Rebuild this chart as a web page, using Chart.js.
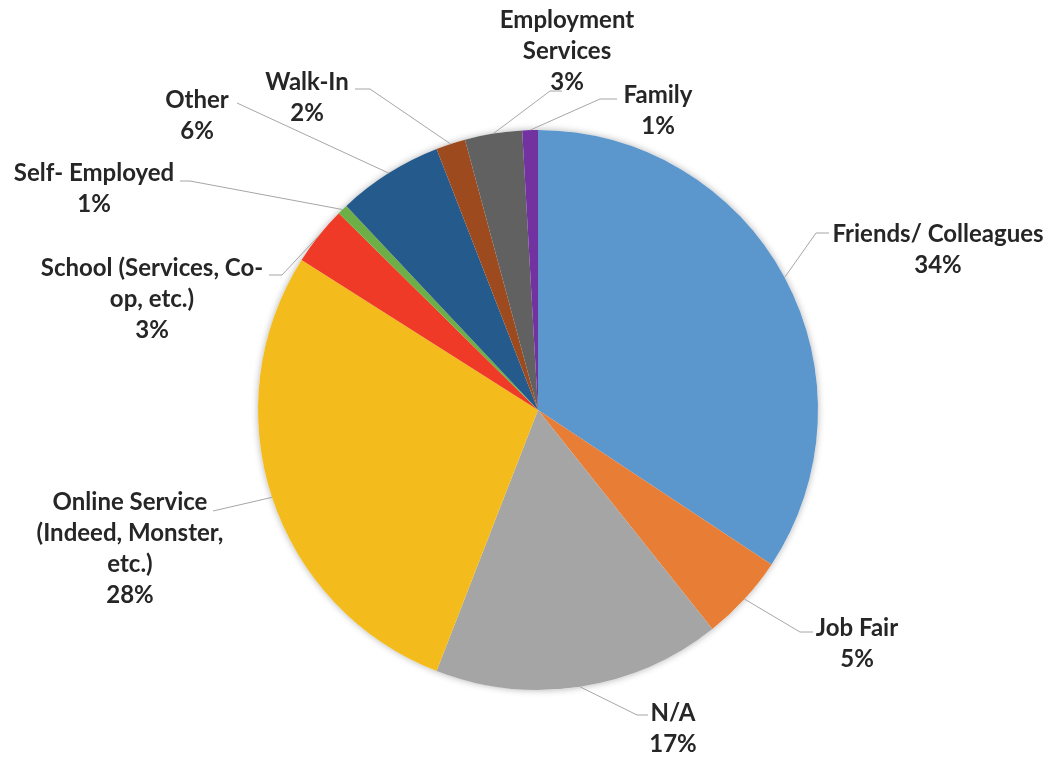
<!DOCTYPE html>
<html>
<head>
<meta charset="utf-8">
<title>Referral Sources</title>
<script src="https://cdn.jsdelivr.net/npm/chart.js@4.4.1/dist/chart.umd.min.js"></script>
<style>
    html, body { margin: 0; padding: 0; background: #ffffff; }
    #wrap { width: 1051px; height: 759px; }
</style>
</head>
<body>
<div id="wrap"><canvas id="sourceChart" width="1051" height="759"></canvas></div>
<script>
// slices run clockwise from 12 o'clock
const categories = ['Friends/ Colleagues', 'Job Fair', 'N/A', 'Online Service', 'School', 'Self- Employed', 'Other', 'Walk-In', 'Employment Services', 'Family'];
const nameLines = [
    ['Friends/ Colleagues'],
    ['Job Fair'],
    ['N/A'],
    ['Online Service', '(Indeed, Monster,', 'etc.)'],
    ['School (Services, Co-', 'op, etc.)'],
    ['Self- Employed'],
    ['Other'],
    ['Walk-In'],
    ['Employment', 'Services'],
    ['Family']
];
const shares = [34.3, 5.0, 16.6, 28.1, 3.4, 0.6, 6.1, 1.7, 3.3, 0.9];
const sliceColors = ['#5B96CC', '#E87D35', '#A5A5A5', '#F3BB1B', '#EE3A27', '#6DAE46', '#245A8C', '#9C4A1E', '#616161', '#7232A0'];

// label placement, offsets from the pie centre in px:
// text = centre of first text line, elbow/end = leader line bend and tip
const labelSpots = [
    { text: [400, -176], elbow: [278, -177], end: [291, -177] },
    { text: [319, 218],  elbow: [262, 222],  end: [275, 222] },
    { text: [135, 303],  elbow: [99, 305],   end: [110, 305] },
    { text: [-408, 92],  elbow: [-325, 101], end: [-325, 101] },
    { text: [-386, -142], elbow: [-256, -135], end: [-269, -135] },
    { text: [-444, -237], elbow: [-348, -229], end: [-358, -229] },
    { text: [-341, -310], elbow: [-301, -307], end: [-301, -307] },
    { text: [-231, -328], elbow: [-168, -321], end: [-183, -321] },
    { text: [29, -390],  elbow: [12, -319],  end: [24, -319] },
    { text: [120, -315], elbow: [62, -311],  end: [79, -311] }
];
const lineGap = 31;

// soft drop shadow behind the whole pie
const pieShadow = {
    id: 'pieShadow',
    beforeDatasetsDraw(chart) {
        const arc = chart.getDatasetMeta(0).data[0];
        const { x, y, outerRadius } = arc.getProps(['x', 'y', 'outerRadius'], true);
        const ctx = chart.ctx;
        ctx.save();
        ctx.shadowColor = 'rgba(0, 0, 0, 0.3)';
        ctx.shadowBlur = 7;
        ctx.fillStyle = '#ffffff';
        ctx.beginPath();
        ctx.arc(x, y, outerRadius, 0, Math.PI * 2);
        ctx.fill();
        ctx.restore();
    }
};

// outside labels with leader lines
const outsideLabels = {
    id: 'outsideLabels',
    afterDatasetsDraw(chart) {
        const ctx = chart.ctx;
        const data = chart.data.datasets[0].data;
        const total = data.reduce((sum, v) => sum + v, 0);
        chart.getDatasetMeta(0).data.forEach((arc, i) => {
            const p = arc.getProps(['x', 'y', 'startAngle', 'endAngle', 'outerRadius'], true);
            const mid = (p.startAngle + p.endAngle) / 2;
            const sx = p.x + Math.cos(mid) * p.outerRadius;
            const sy = p.y + Math.sin(mid) * p.outerRadius;
            const spot = labelSpots[i];

            ctx.save();
            ctx.strokeStyle = '#A6A6A6';
            ctx.lineWidth = 1;
            ctx.beginPath();
            ctx.moveTo(sx, sy);
            ctx.lineTo(p.x + spot.elbow[0], p.y + spot.elbow[1]);
            ctx.lineTo(p.x + spot.end[0], p.y + spot.end[1]);
            ctx.stroke();

            const lines = nameLines[i].concat([Math.round(data[i] / total * 100) + '%']);
            ctx.fillStyle = '#262626';
            ctx.font = 'bold 24px Lato';
            ctx.textAlign = 'center';
            ctx.textBaseline = 'middle';
            lines.forEach((t, k) => {
                ctx.fillText(t, p.x + spot.text[0], p.y + spot.text[1] + k * lineGap);
            });
            ctx.restore();
        });
    }
};

new Chart(document.getElementById('sourceChart').getContext('2d'), {
    type: 'pie',
    data: {
        labels: categories,
        datasets: [{
            data: shares,
            backgroundColor: sliceColors,
            borderWidth: 0
        }]
    },
    options: {
        responsive: false,
        animation: false,
        layout: { padding: { left: 258, right: 233, top: 130, bottom: 69 } },
        plugins: {
            legend: { display: false },
            tooltip: { enabled: false }
        }
    },
    plugins: [pieShadow, outsideLabels]
});
</script>
</body>
</html>
